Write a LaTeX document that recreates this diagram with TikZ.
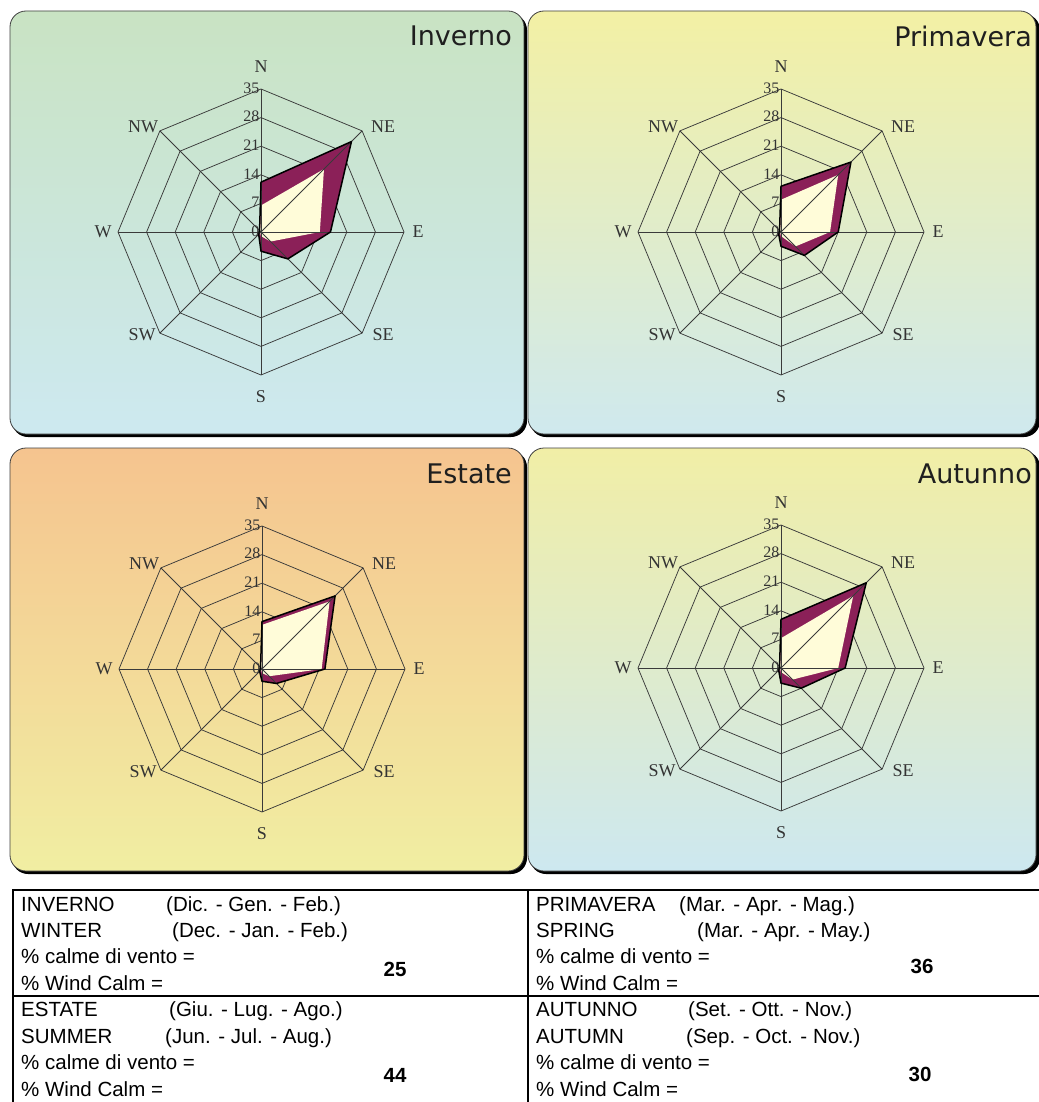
\documentclass[tikz,border=0pt]{standalone}
\usepackage{fontspec}
\setmainfont{Liberation Sans}
\newfontfamily\titlefont{DejaVu Sans}
\newfontfamily\rosefont{Liberation Serif}
\definecolor{purp}{HTML}{8B2058}
\definecolor{cream}{HTML}{FFFCD9}
\definecolor{gridc}{HTML}{3A3A3A}
\definecolor{winTop}{HTML}{C9E3C3}
\definecolor{winBot}{HTML}{CDE9F0}
\definecolor{spTop}{HTML}{F3F0A4}
\definecolor{spBot}{HTML}{CFE9EE}
\definecolor{suTop}{HTML}{F5C48F}
\definecolor{suBot}{HTML}{F1EEA2}
\definecolor{auTop}{HTML}{F1EEA6}
\definecolor{auBot}{HTML}{CDE8F0}
\newcommand\windrose[4]{%
\begin{scope}[shift={#2}]
  \foreach \k in {1,...,5}{
    \draw[gridline] (0:{\k*28.6pt}) \foreach \a in {45,90,...,315}{ -- (\a:{\k*28.6pt}) } -- cycle;
  }
  \foreach \v [count=\i] in {#3} \coordinate (#1o\i) at ({135-45*\i}:{\v*4.086pt});
  \foreach \v [count=\i] in {#4} \coordinate (#1i\i) at ({135-45*\i}:{\v*4.086pt});
  \fill[purp] (#1o1)--(#1o2)--(#1o3)--(#1o4)--(#1o5)--(#1o6)--(#1o7)--(#1o8)--cycle;
  \fill[cream] (#1i1)--(#1i2)--(#1i3)--(#1i4)--(#1i5)--(#1i6)--(#1i7)--(#1i8)--cycle;
  \foreach \a in {0,45,...,315} \draw[gridline] (0pt,0pt) -- (\a:143pt);
  \draw[black, line width=1.5pt, line join=round] (#1o1)--(#1o2)--(#1o3)--(#1o4)--(#1o5)--(#1o6)--(#1o7)--(#1o8)--cycle;
  \node[dirlab] (#1N) at (0pt,165pt) {N};
  \node[dirlab] (#1S) at (0pt,-165pt) {S};
  \node[dirlab] (#1E) at (157pt,0pt) {E};
  \node[dirlab] (#1W) at (-158pt,0pt) {W};
  \node[dirlab] (#1NE) at (122pt,105pt) {NE};
  \node[dirlab] (#1NW) at (-118pt,105pt) {NW};
  \node[dirlab] (#1SE) at (122pt,-103pt) {SE};
  \node[dirlab] (#1SW) at (-119pt,-103pt) {SW};
  \foreach \k/\t in {0/0,1/7,2/14,3/21,4/28,5/35}
    \node[numlab] (#1r\k) at (-1.5pt,{\k*28.6pt+1pt}) {\t};
\end{scope}}
\begin{document}
\begin{tikzpicture}[x=1pt,y=-1pt,
  gridline/.style={draw=gridc, line width=0.75pt},
  dirlab/.style={font=\rosefont\fontsize{18}{18}\selectfont, text=black!80, inner sep=0pt},
  numlab/.style={font=\rosefont\fontsize{16}{16}\selectfont, text=black!80, inner sep=0pt, anchor=east},
  titlelab/.style={font=\titlefont\fontsize{27}{27}\selectfont, text=black!88, anchor=east, inner sep=0pt},
  panelshadow/.style={fill=black, rounded corners=16pt},
  panelbox/.style={draw=black!75, line width=0.8pt, rounded corners=16pt},
  tabtxt/.style={font=\fontsize{20.5}{21}\selectfont, anchor=base west, inner sep=0pt},
  tabnum/.style={font=\bfseries\fontsize{20.5}{21}\selectfont, inner sep=0pt},
  tabline/.style={draw=black, line width=2pt}]
\useasboundingbox (0,0) rectangle (1038,1102);
\fill[white] (0,0) rectangle (1038,1102);
% panels
\fill[panelshadow] (12,14) rectangle (527,437);
\shade[panelbox, top color=winTop, bottom color=winBot] (10,11) rectangle (524,434);
\fill[panelshadow] (530,14) rectangle (1040,437);
\shade[panelbox, top color=spTop, bottom color=spBot] (528,11) rectangle (1036,434);
\fill[panelshadow] (12,451) rectangle (527,874);
\shade[panelbox, top color=suTop, bottom color=suBot] (10,448) rectangle (524,871);
\fill[panelshadow] (530,451) rectangle (1040,874);
\shade[panelbox, top color=auTop, bottom color=auBot] (528,448) rectangle (1036,871);
% titles
\node[titlelab] (tWin) at (512,36) {Inverno};
\node[titlelab] (tSpr) at (1032,36) {Primavera};
\node[titlelab] (tSum) at (512,474) {Estate};
\node[titlelab] (tAut) at (1032,474) {Autunno};
% roses
\windrose{w}{(261,232)}{12.2,31.3,17,9.3,4.7,0.8,0.5,0.5}{6.5,21.8,14.4,3.3,1,0.3,0.3,0.3}
\windrose{p}{(781,232)}{11.2,24.2,14,8.1,3.5,0.8,0.5,0.5}{7.9,19.8,12,5,1,0.3,0.3,0.3}
\windrose{s}{(262,669)}{11.6,25.3,15.4,5,3,0.8,0.5,0.5}{10.8,23.4,14.6,2.5,1,0.3,0.3,0.3}
\windrose{a}{(781,668)}{11.9,29.5,15.7,7,3.7,0.8,0.5,0.5}{7.3,25,14,4,1,0.3,0.3,0.3}
% table
\draw[tabline] (13,1104) -- (13,890) -- (1040,890);
\draw[tabline] (13,996) -- (1040,996);
\draw[tabline] (528,890) -- (528,1104);
\node[tabtxt] (l1) at (21,911) {INVERNO};
\node[tabtxt] (l1b) at (166,911) {(Dic. - Gen. - Feb.)};
\node[tabtxt] (l2) at (21,937) {WINTER};
\node[tabtxt] (l2b) at (172,937) {(Dec. - Jan. - Feb.)};
\node[tabtxt] (l3) at (21,963) {\% calme di vento =};
\node[tabtxt] (l4) at (21,990) {\% Wind Calm =};
\node[tabnum] (n1) at (395,969) {25};
\node[tabtxt] (l5) at (21,1016) {ESTATE};
\node[tabtxt] (l5b) at (169,1016) {(Giu. - Lug. - Ago.)};
\node[tabtxt] (l6) at (21,1043) {SUMMER};
\node[tabtxt] (l6b) at (165,1043) {(Jun. - Jul. - Aug.)};
\node[tabtxt] (l7) at (21,1069) {\% calme di vento =};
\node[tabtxt] (l8) at (21,1096) {\% Wind Calm =};
\node[tabnum] (n2) at (395,1075) {44};
\node[tabtxt] (r1) at (536,911) {PRIMAVERA};
\node[tabtxt] (r1b) at (679,911) {(Mar. - Apr. - Mag.)};
\node[tabtxt] (r2) at (536,937) {SPRING};
\node[tabtxt] (r2b) at (697,937) {(Mar. - Apr. - May.)};
\node[tabtxt] (r3) at (536,963) {\% calme di vento =};
\node[tabtxt] (r4) at (536,990) {\% Wind Calm =};
\node[tabnum] (n3) at (922,966) {36};
\node[tabtxt] (r5) at (536,1016) {AUTUNNO};
\node[tabtxt] (r5b) at (688,1016) {(Set. - Ott. - Nov.)};
\node[tabtxt] (r6) at (536,1043) {AUTUMN};
\node[tabtxt] (r6b) at (686,1043) {(Sep. - Oct. - Nov.)};
\node[tabtxt] (r7) at (536,1069) {\% calme di vento =};
\node[tabtxt] (r8) at (536,1096) {\% Wind Calm =};
\node[tabnum] (n4) at (920,1074) {30};
\end{tikzpicture}
\end{document}
